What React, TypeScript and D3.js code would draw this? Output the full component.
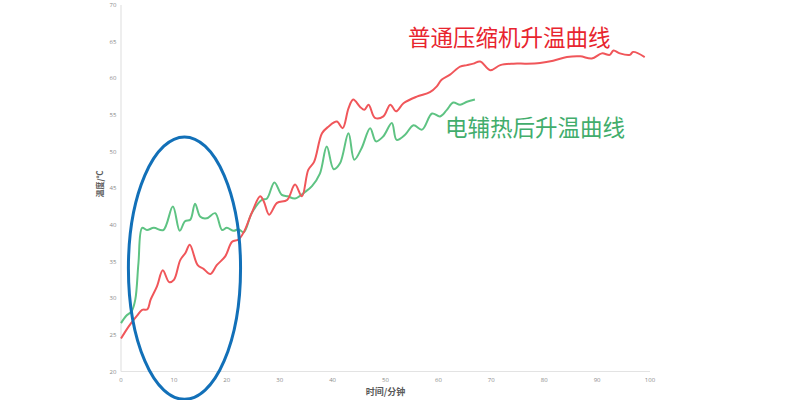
import * as React from "react";
import * as d3 from "d3";

// 普通压缩机 (red)
const redTime = [0, 1.5, 3, 4, 5, 5.6, 6.8, 7.9, 9.1, 10, 11.2, 12.2, 13, 14.5, 15.6, 16.9, 18.1, 19.7, 21, 22.2, 23.2, 24.7, 26.3, 27, 28, 29.5, 31.4, 32.9, 34.2, 35.4, 36.5, 38, 39.2, 40.8, 41.9, 43, 43.9, 45.2, 46, 46.8, 48, 49.6, 50.9, 52, 53.4, 55.9, 58.4, 59.7, 60.6, 62.2, 64.1, 65.4, 66.6, 67.9, 69.8, 71.7, 74.2, 76.7, 79.2, 81.7, 84.3, 86.8, 89, 90.9, 92.4, 93.1, 94.3, 96.2, 96.8, 99];
const redTemp = [24.5, 26.2, 27.6, 28.4, 28.5, 29.8, 31.6, 33.8, 32.2, 32.5, 35.2, 36.2, 37.3, 34.5, 34.0, 33.3, 34.5, 35.7, 37.7, 38.0, 39.0, 41.6, 43.9, 43.2, 41.4, 43.0, 43.4, 45.5, 43.9, 47.5, 48.6, 52.5, 53.4, 54.1, 53.2, 55.9, 57.1, 56.1, 55.7, 56.4, 54.6, 54.8, 56.4, 55.5, 56.6, 57.5, 58.1, 58.9, 59.8, 60.5, 61.6, 61.8, 62.0, 62.3, 61.1, 61.8, 62.0, 62.0, 62.1, 62.4, 62.9, 63.0, 62.7, 63.4, 63.2, 63.8, 63.4, 63.2, 63.6, 62.9];

// 电辅热后 (green)
const greenTime = [0, 1, 2, 2.7, 3.3, 4, 4.9, 6.2, 8, 9.8, 11.1, 12.1, 13.1, 14, 15, 16.2, 17.8, 19.1, 20, 21.3, 22.2, 23.2, 24.7, 26.6, 27.6, 29, 30.4, 31.5, 32.9, 34.8, 36.1, 37.6, 38.9, 40.2, 41.4, 43, 44.1, 45.5, 47.1, 48.2, 49.6, 51.2, 52.1, 53.7, 55.3, 56.9, 58.8, 60.3, 61.6, 62.8, 64.1, 65.4, 66.9];
const greenTemp = [26.6, 27.6, 28.2, 29.8, 34.8, 39.6, 39.3, 39.6, 39.3, 42.5, 39.2, 40.5, 40.7, 42.9, 41.1, 40.9, 41.6, 39.3, 39.6, 39.2, 39.4, 39.0, 41.6, 43.4, 43.6, 45.8, 44.1, 43.9, 43.6, 44.5, 45.3, 47.0, 50.7, 47.6, 48.4, 52.5, 48.9, 50.5, 53.2, 51.4, 52.1, 53.9, 51.6, 52.3, 53.6, 53.0, 55.2, 54.8, 55.7, 56.7, 56.4, 56.8, 57.1];

const xTicks = [0, 10, 20, 30, 40, 50, 60, 70, 80, 90, 100];
const yTicks = [20, 25, 30, 35, 40, 45, 50, 55, 60, 65, 70];

// highlighted region (center and radii in data units)
const focus = { t: 12, temp: 34.1, rt: 10.6, rtemp: 17.9 };

const W = 800;
const H = 400;
const PLOT = { left: 121, right: 650, top: 5, bottom: 371.5 };
const CJK = "'Noto Sans CJK SC', 'Noto Sans', sans-serif";

export default function App() {
  const x = d3.scaleLinear().domain([0, 100]).range([PLOT.left, PLOT.right]);
  const y = d3.scaleLinear().domain([20, 70]).range([PLOT.bottom, PLOT.top]);

  const line = d3
    .line<[number, number]>()
    .x((d) => x(d[0]))
    .y((d) => y(d[1]))
    .curve(d3.curveCatmullRom.alpha(0.5));

  const red = redTime.map((t, i) => [t, redTemp[i]] as [number, number]);
  const green = greenTime.map((t, i) => [t, greenTemp[i]] as [number, number]);

  const cx = x(focus.t);
  const cy = y(focus.temp);
  const rx = x(focus.t + focus.rt) - cx;
  const ry = cy - y(focus.temp + focus.rtemp);

  return (
    <div style={{ position: "absolute", left: 0, top: 0, width: W, height: H, background: "#fff" }}>
      <svg width={W} height={H} style={{ display: "block" }}>
        {/* axes */}
        <line x1={PLOT.left} x2={PLOT.left} y1={PLOT.top} y2={PLOT.bottom} stroke="#e3e3e3" strokeWidth={1.2} />
        <line x1={PLOT.left} x2={PLOT.right} y1={PLOT.bottom} y2={PLOT.bottom} stroke="#e3e3e3" strokeWidth={1.2} />

        {yTicks.map((t) => (
          <text
            key={`y-${t}`}
            x={PLOT.left - 8}
            y={y(t)}
            dy="0.35em"
            textAnchor="middle"
            fontSize={6}
            fill="#8a8a8a"
            fontFamily="'Open Sans', sans-serif"
          >
            {t}
          </text>
        ))}
        {xTicks.map((t) => (
          <text
            key={`x-${t}`}
            x={x(t)}
            y={PLOT.bottom + 8}
            dy="0.35em"
            textAnchor="middle"
            fontSize={6}
            fill="#8a8a8a"
            fontFamily="'Open Sans', sans-serif"
          >
            {t}
          </text>
        ))}

        <text
          x={(PLOT.left + PLOT.right) / 2}
          y={392}
          dy="0.35em"
          textAnchor="middle"
          fontSize={9}
          fontWeight="bold"
          fill="#595959"
          fontFamily={CJK}
        >
          时间/分钟
        </text>
        <text
          transform={`translate(100,184) rotate(-90)`}
          dy="0.35em"
          textAnchor="middle"
          fontSize={8}
          fontWeight="bold"
          fill="#595959"
          fontFamily={CJK}
        >
          温度/℃
        </text>

        {/* series */}
        <path d={line(green) ?? ""} fill="none" stroke="#5ec383" strokeWidth={2} />
        <path d={line(red) ?? ""} fill="none" stroke="#f0565a" strokeWidth={2} />

        {/* annotation */}
        <ellipse cx={cx} cy={cy} rx={rx} ry={ry} fill="none" stroke="#1270b8" strokeWidth={3} />

        <text x={408} y={46} fontSize={22.5} fill="#e8252f" fontFamily={CJK}>
          普通压缩机升温曲线
        </text>
        <text x={445} y={136} fontSize={22.5} fill="#42ad6c" fontFamily={CJK}>
          电辅热后升温曲线
        </text>
      </svg>
    </div>
  );
}
